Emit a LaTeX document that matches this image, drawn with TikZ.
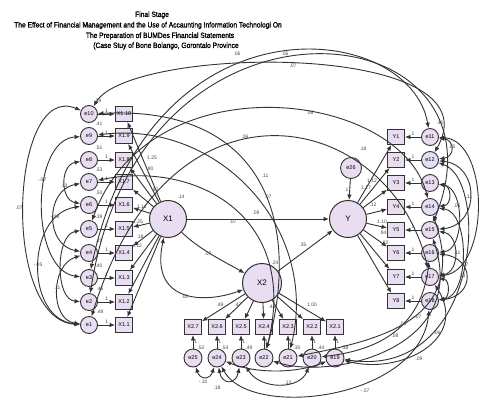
\documentclass[tikz,border=0pt]{standalone}
\usepackage{fontspec}
\setmainfont{Liberation Sans}
\newfontfamily\ttlfont[FakeStretch=0.88,FakeBold=1.2]{Liberation Sans}
\usetikzlibrary{arrows.meta}
\definecolor{lav}{HTML}{E9DDF2}
\definecolor{ln}{HTML}{333333}
\definecolor{numc}{HTML}{4A4A4A}
\newcommand\numfont{\fontsize{5}{6}\selectfont}
\newcommand\boxfont{\fontsize{5.5}{6.5}\selectfont}
\begin{document}
\begin{tikzpicture}[x=1pt,y=-1pt,
 err/.style={circle,draw=ln,fill=lav,line width=0.9pt,minimum size=17pt,inner sep=0pt,font=\boxfont},
 obs/.style={rectangle,draw=ln,fill=lav,line width=0.9pt,minimum width=17pt,minimum height=15pt,inner sep=0pt,font=\boxfont},
 lat/.style={circle,draw=ln,fill=lav,line width=1pt,minimum size=37pt,inner sep=0pt,font=\fontsize{8}{9}\selectfont},
 num/.style={font=\numfont,text=numc,inner sep=0pt},
 arr/.style={draw=ln,line width=0.9pt,-{Latex[length=5.5pt,width=4.5pt]}},
 cov/.style={draw=ln,line width=0.9pt,{Latex[length=5.5pt,width=4.5pt]}-{Latex[length=5.5pt,width=4.5pt]}},
 ttl/.style={font=\ttlfont\fontsize{7.6}{8}\selectfont,inner sep=0pt}]
\fill[white] (0,0) rectangle (481,399);
\useasboundingbox (0,0) rectangle (481,399);
% title
\node[ttl] (t1) at (152,15) {Final Stage};
\node[ttl] (t2) at (148,25.5) {The Effect of Financial Management and the Use of Accaunting Information Technologi On};
\node[ttl] (t3) at (160,36) {The Preparation of BUMDes Financial Statements};
\node[ttl] (t4) at (166,46) {(Case Stuy of Bone Bolango, Gorontalo Province};
% nodes
\foreach \i/\yy in {10/114,9/136,8/160,7/182,6/205,5/229,4/253,3/278,2/302,1/325}{
  \node[err] (e\i) at (89,\yy) {e\i};
  \node[obs] (xa\i) at (124,\yy) {X1.\i};
}
\foreach \i/\j/\yy in {1/11/137,2/12/160,3/13/183,4/14/207,5/15/230,6/16/253,7/17/277,8/18/301}{
  \node[obs] (y\i) at (396,\yy) {Y\i};
  \node[err] (e\j) at (430,\yy) {e\j};
}
\foreach \i/\j/\xx in {7/25/193,6/24/217,5/23/241,4/22/264,3/21/288,2/20/312,1/19/335}{
  \node[obs] (xb\i) at (\xx,327) {X2.\i};
  \node[err,minimum size=18pt] (e\j) at (\xx,358) {e\j};
}
\node[lat] (X1) at (168,219) {X1};
\node[lat] (Y) at (348,219) {Y};
\node[lat,minimum size=39pt] (X2) at (262,283) {X2};
\node[err,minimum size=21pt] (e26) at (351,168) {e26};
% measurement arrows
\foreach \i in {1,...,10}{
  \draw[arr] (e\i) -- (xa\i) node[num,midway,above=0.8pt] (la\i) {1};
  \draw[arr] (X1) -- (xa\i);
}
\foreach \i/\j in {1/11,2/12,3/13,4/14,5/15,6/16,7/17,8/18}{
  \draw[arr] (e\j) -- (y\i) node[num,midway,above=0.8pt] (ly\i) {1};
  \draw[arr] (Y) -- (y\i);
}
\foreach \i/\j in {1/19,2/20,3/21,4/22,5/23,6/24,7/25}{
  \draw[arr] (e\j) -- (xb\i) node[num,midway,right=1pt] (lb\i) {1};
  \draw[arr] (X2) -- (xb\i);
}
\draw[arr] (e26) -- (Y) node[num,midway,left=1pt] (le26) {1};
% structural paths
\draw[arr] (X1) -- (Y);
\draw[arr] (X2) -- (Y);
\draw[arr] (X1) .. controls (200,250) and (225,262) .. (X2);
\draw[cov] (X1) .. controls (150,300) and (200,305) .. (X2);
% left covariances
\draw[cov] (e10) .. controls (10,80) and (0,320) .. (e1);
\draw[cov] (e9) .. controls (30,140) and (30,270) .. (e3);
\draw[cov] (e8) .. controls (60,165) and (60,200) .. (e6);
\draw[cov] (e7) .. controls (45,190) and (45,245) .. (e4);
\draw[cov] (e6) .. controls (25,215) and (25,320) .. (e1);
\draw[cov] (e4) .. controls (50,265) and (50,320) .. (e1);
\draw[cov] (e5) .. controls (55,235) and (55,300) .. (e2);
% right covariances
\draw[cov] (e11) .. controls (455,140) and (455,157) .. (e12);
\draw[cov] (e12) .. controls (480,165) and (480,225) .. (e15);
\draw[cov] (e13) .. controls (465,188) and (465,250) .. (e16);
\draw[cov] (e14) .. controls (470,212) and (470,296) .. (e18);
\draw[cov] (e15) .. controls (460,235) and (460,272) .. (e17);
\draw[cov] (e16) .. controls (475,258) and (475,296) .. (e18);
\draw[cov] (e11) .. controls (490,140) and (490,270) .. (e17);
\draw[cov] (e13) .. controls (452,186) and (452,205) .. (e14);
\draw[cov] (e17) .. controls (450,280) and (450,298) .. (e18);
% long top arcs
\draw[cov] (e3) .. controls (150,-10) and (410,20) .. (e11);
\draw[cov] (e2) .. controls (140,-35) and (520,10) .. (e15);
\draw[cov] (e10) .. controls (130,45) and (500,40) .. (e12);
\draw[cov] (e5) .. controls (150,60) and (400,90) .. (e14);
\draw[cov] (e1) .. controls (170,60) and (390,110) .. (e17);
% arcs down to bottom errors
\draw[cov] (e10) .. controls (270,105) and (300,230) .. (e22);
\draw[cov] (e9) .. controls (220,120) and (320,230) .. (e21);
\draw[cov] (e7) .. controls (200,160) and (300,220) .. (e22);
% bottom covariances
\draw[cov] (e25) .. controls (200,380) and (210,380) .. (e24);
\draw[cov] (e24) .. controls (222,385) and (236,385) .. (e23);
\draw[cov] (e24) .. controls (250,420) and (420,400) .. (e18);
\draw[cov] (e23) .. controls (260,390) and (300,390) .. (e20);
\draw[cov] (e24) .. controls (260,375) and (300,372) .. (e19);
\draw[cov] (e19) .. controls (400,375) and (470,340) .. (e17);
\draw[cov] (e20) .. controls (360,352) and (420,340) .. (e16);
\draw[cov] (e22) .. controls (330,380) and (470,350) .. (e15);
\draw[cov] (e21) .. controls (380,340) and (470,320) .. (e14);
\draw[cov] (e19) .. controls (480,380) and (490,180) .. (e12);
% numbers
\node[num] (v1) at (98,101) {.39};
\node[num] (v2) at (99,124) {.41};
\node[num] (v3) at (99,148) {.51};
\node[num] (v4) at (99,170) {.53};
\node[num] (v5) at (99,193) {.50};
\node[num] (v6) at (99,217) {.39};
\node[num] (v7) at (99,241) {.45};
\node[num] (v8) at (99,266) {.40};
\node[num] (v9) at (100,289) {.46};
\node[num] (v10) at (100,312) {.48};
\node[num] (c1) at (19,208) {.07};
\node[num] (c2) at (42,180) {-.07};
\node[num] (c3) at (64,186) {.13};
\node[num] (c4) at (55,217) {-.08};
\node[num] (c5) at (38,265) {-.05};
\node[num] (c6) at (57,288) {.11};
\node[num] (w1) at (152,158) {1.25};
\node[num] (w2) at (150,169) {.90};
\node[num] (w3) at (155,190) {.97};
\node[num] (w4) at (142,207) {1.11};
\node[num] (w5) at (138,222) {1.25};
\node[num] (w6) at (140,237) {.18};
\node[num] (w7) at (137,246) {1.12};
\node[num] (p1) at (181,197) {.14};
\node[num] (p2) at (256,213) {.09};
\node[num] (p3) at (233,222) {.07};
\node[num] (p4) at (268,197) {.07};
\node[num] (p5) at (265,176) {.11};
\node[num] (p6) at (245,137) {.06};
\node[num] (p7) at (310,113) {.06};
\node[num] (p8) at (237,54) {.06};
\node[num] (p9) at (285,54) {.06};
\node[num] (p10) at (293,66) {.07};
\node[num] (p11) at (208,254) {.07};
\node[num] (p12) at (185,297) {.00};
\node[num] (p13) at (303,245) {.35};
\node[num] (p14) at (275,263) {.24};
\node[num] (r1) at (363,149) {.18};
\node[num] (r2) at (440,123) {.41};
\node[num] (r3) at (372,181) {1.12};
\node[num] (r4) at (366,188) {1.17};
\node[num] (r5) at (373,205) {.12};
\node[num] (r6) at (382,222) {1.10};
\node[num] (r7) at (383,233) {.94};
\node[num] (r8) at (385,243) {.82};
\node[num] (s1) at (452,147) {.05};
\node[num] (s2) at (468,197) {-.11};
\node[num] (s3) at (457,206) {.06};
\node[num] (s4) at (457,253) {.11};
\node[num] (s5) at (465,265) {.07};
\node[num] (s6) at (462,276) {.13};
\node[num] (b1) at (220,305) {.49};
\node[num] (b2) at (238,305) {.47};
\node[num] (b3) at (272,307) {.43};
\node[num] (b4) at (312,305) {1.00};
\node[num] (b5) at (201,348) {.52};
\node[num] (b6) at (225,348) {.54};
\node[num] (b7) at (249,348) {.49};
\node[num] (b8) at (297,348) {.30};
\node[num] (b9) at (321,348) {.44};
\node[num] (b10) at (345,348) {.38};
\node[num] (d1) at (203,382) {-.10};
\node[num] (d2) at (217,388) {.18};
\node[num] (d3) at (365,391) {-.07};
\node[num] (d4) at (288,383) {.13};
\node[num] (d5) at (395,336) {.08};
\node[num] (d6) at (419,359) {.09};
\node[num] (d7) at (437,333) {.06};
\node[num] (d8) at (403,324) {.06};
\node[num] (d9) at (417,317) {-.07};
\end{tikzpicture}
\end{document}
